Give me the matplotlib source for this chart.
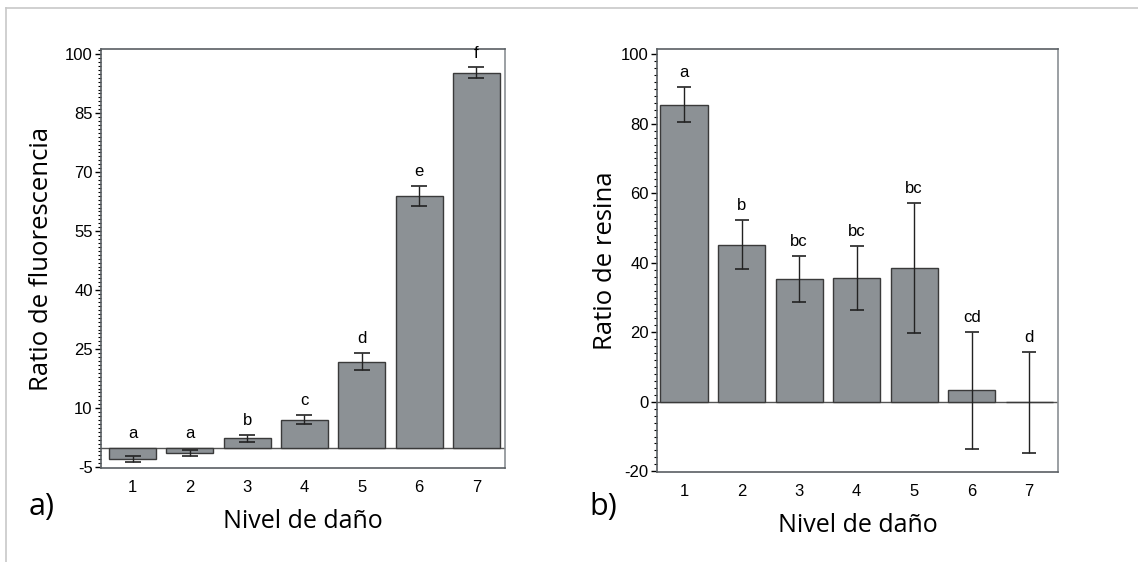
import numpy as np
import matplotlib.pyplot as plt
from matplotlib.ticker import MultipleLocator, FixedLocator
from matplotlib.lines import Line2D

#############
############# Data
#############

niveles = [1, 2, 3, 4, 5, 6, 7]

# a) fluorescence ratio
fluor_mean = [-3.0, -1.3, 2.3, 7.1, 21.8, 63.9, 95.3]
fluor_err = [0.8, 0.8, 0.8, 1.15, 2.2, 2.5, 1.3]
fluor_letters = ['a', 'a', 'b', 'c', 'd', 'e', 'f']

# b) resin ratio
resina_mean = [85.5, 45.2, 35.4, 35.6, 38.5, 3.3, -0.2]
resina_err = [5.0, 7.1, 6.6, 9.1, 18.7, 16.9, 14.6]
resina_letters = ['a', 'b', 'bc', 'bc', 'bc', 'cd', 'd']

#############
############# Style
#############

plt.rcParams['axes.unicode_minus'] = False  # original uses plain hyphens

bar_color = '#8c9195'
edge_color = '#3a3a3a'
spine_color = '#5a5f63'
label_font = ['Open Sans', 'DejaVu Sans']
tick_font = ['Liberation Sans Narrow', 'Liberation Sans', 'DejaVu Sans']

fig = plt.figure(figsize=(11.38, 5.62), dpi=100)
W, H = 1138., 562.

# light gray frame round the whole picture (top and left edges only)
fig.add_artist(Line2D([6/W, 6/W], [0, 1 - 8/H], color='#c8c8c8', lw=1.2))
fig.add_artist(Line2D([6/W, 1], [1 - 8/H, 1 - 8/H], color='#c8c8c8', lw=1.2))


def draw_panel(ax, means, errs, letters, ylim, major, minor, capsize, xlim):
    ax.bar(niveles, means, width=0.82, color=bar_color, edgecolor=edge_color,
           linewidth=1.0, zorder=2)
    ax.errorbar(niveles, means, yerr=errs, fmt='none', ecolor='#222222',
                elinewidth=1.0, capsize=capsize, capthick=1.2, zorder=3)
    ax.axhline(0, color='#555555', lw=1.0, zorder=1)
    # significance letters above the upper error bar (or above zero)
    for x, m, e, lt in zip(niveles, means, errs, letters):
        top = max(m + e, 0)
        ax.annotate(lt, (x, top), xytext=(0, 5), textcoords='offset points',
                    ha='center', va='bottom', fontsize=12, family=tick_font)
    ax.set_xlim(*xlim)
    ax.set_ylim(*ylim)
    ax.yaxis.set_major_locator(FixedLocator(major))
    ax.yaxis.set_minor_locator(MultipleLocator(minor))
    ax.set_xticks(niveles)
    ax.tick_params(axis='x', length=0, pad=9, labelsize=12)
    ax.tick_params(axis='y', which='major', length=4, width=1, pad=2, labelsize=12)
    ax.tick_params(axis='y', which='minor', length=2.5, width=0.8)
    for lab in ax.get_xticklabels() + ax.get_yticklabels():
        lab.set_family(tick_font)
    for s in ax.spines.values():
        s.set_color(spine_color)
        s.set_linewidth(1.2)
    ax.spines['right'].set_color('#8a8f93')
    ax.set_xlabel('Nivel de daño', fontsize=18, family=label_font, labelpad=10)


# panel a
ax1 = fig.add_axes([101/W, 1 - 468/H, 404/W, 419/H])
draw_panel(ax1, fluor_mean, fluor_err, fluor_letters, (-5.2, 101.3),
           [-5, 10, 25, 40, 55, 70, 85, 100], 1, 6, (0.45, 7.5))
ax1.set_ylabel('Ratio de fluorescencia', fontsize=18.5, family=label_font,
               labelpad=8)

# panel b
ax2 = fig.add_axes([657/W, 1 - 472/H, 401/W, 423/H])
draw_panel(ax2, resina_mean, resina_err, resina_letters, (-20.2, 101.5),
           [-20, 0, 20, 40, 60, 80, 100], 2, 5, (0.53, 7.5))
ax2.set_ylabel('Ratio de resina', fontsize=18.5, family=label_font, labelpad=2)

fig.text(42/W, 1 - 507/H, 'a)', fontsize=22, family=label_font,
         ha='center', va='center')
fig.text(603/W, 1 - 507/H, 'b)', fontsize=22, family=label_font,
         ha='center', va='center')

fig.savefig('out.png', dpi=100)
